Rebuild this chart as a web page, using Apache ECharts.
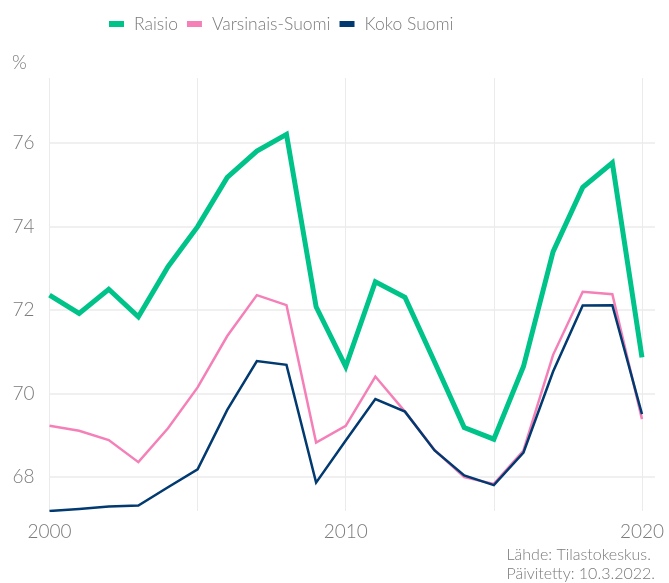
<!DOCTYPE html>
<html>
<head>
<meta charset="utf-8">
<script src="https://cdn.jsdelivr.net/npm/echarts@6/dist/echarts.min.js"></script>
<style>
  html, body { margin: 0; padding: 0; background: #fff; }
  #chart { width: 669px; height: 583px; }
</style>
</head>
<body>
<div id="chart"></div>
<script>
// vuodet ja sarjat
const years = [2000, 2001, 2002, 2003, 2004, 2005, 2006, 2007, 2008, 2009, 2010,
    2011, 2012, 2013, 2014, 2015, 2016, 2017, 2018, 2019, 2020];
const raisio = [72.36, 71.92, 72.50, 71.84, 73.04, 74.00, 75.18, 75.81, 76.21, 72.08, 70.65,
    72.68, 72.31, 70.76, 69.19, 68.91, 70.65, 73.40, 74.94, 75.53, 70.87];
const varsinaisSuomi = [69.23, 69.11, 68.89, 68.36, 69.17, 70.15, 71.38, 72.36, 72.12, 68.83, 69.23,
    70.41, 69.57, 68.65, 68.00, 67.84, 68.64, 70.93, 72.44, 72.38, 69.39];
const kokoSuomi = [67.19, 67.24, 67.30, 67.32, 67.76, 68.19, 69.61, 70.78, 70.69, 67.87, 68.88,
    69.87, 69.57, 68.64, 68.04, 67.81, 68.59, 70.53, 72.11, 72.12, 69.51];
const yTicks = [68, 70, 72, 74, 76];
const xLabels = [2000, 2010, 2020];

const font = 'Lato';
const grey = '#7a7a7a';

function pairs(values) {
    return years.map((y, i) => [y, values[i]]);
}

function lineSeries(name, values, color, width) {
    return {
        name: name,
        type: 'line',
        data: pairs(values),
        showSymbol: false,
        symbol: 'none',
        lineStyle: { color: color, width: width, join: 'miter' },
        itemStyle: { color: color },
        emphasis: { disabled: true },
        animation: false,
    };
}

const chart = echarts.init(document.getElementById('chart'), null, { renderer: 'canvas' });

chart.setOption({
    backgroundColor: '#fff',
    textStyle: { fontFamily: font },
    title: {
        text: '%',
        left: 7,
        top: 48,
        textStyle: { fontFamily: font, fontSize: 19, fontWeight: 300, color: grey },
    },
    legend: {
        top: 10,
        left: 104,
        itemWidth: 15,
        itemHeight: 6,
        itemGap: 9,
        icon: 'rect',
        textStyle: { fontFamily: font, fontSize: 17.5, fontWeight: 300, color: grey, padding: [0, 0, 0, 5] },
        data: ['Raisio', 'Varsinais-Suomi', 'Koko Suomi'],
    },
    grid: { left: 49.5, right: 14, top: 78, bottom: 72, containLabel: false },
    xAxis: {
        type: 'value',
        min: 2000,
        max: 2020.44,
        interval: 5,
        axisLine: { show: false },
        axisTick: { show: false },
        splitLine: { show: true, showMaxLine: false, lineStyle: { color: '#ebebeb', width: 1 } },
        axisLabel: {
            color: grey,
            fontFamily: font,
            fontSize: 19,
            fontWeight: 300,
            margin: 11,
            showMaxLabel: false,
            formatter: v => (xLabels.includes(v) ? String(v) : ''),
        },
    },
    yAxis: {
        type: 'value',
        min: 67.19,
        max: 77.56,
        splitNumber: 5,
        axisLine: { show: false },
        axisTick: { show: false },
        splitLine: {
            show: true, showMinLine: false, showMaxLine: false,
            lineStyle: { color: '#f0f0f0', width: 2 },
        },
        axisLabel: {
            color: grey,
            fontFamily: font,
            fontSize: 19,
            fontWeight: 300,
            margin: 15,
            showMinLabel: false,
            showMaxLabel: false,
            formatter: v => (yTicks.includes(Math.round(v * 100) / 100) ? String(v) : ''),
        },
    },
    graphic: [{
        type: 'text',
        right: 14,
        top: 545,
        style: {
            text: 'Lähde: Tilastokeskus.\nPäivitetty: 10.3.2022.',
            font: '300 16px Lato',
            fill: grey,
            align: 'right',
            lineHeight: 19,
        },
    }],
    series: [
        lineSeries('Raisio', raisio, '#00c389', 5),
        lineSeries('Varsinais-Suomi', varsinaisSuomi, '#f580b8', 2.5),
        lineSeries('Koko Suomi', kokoSuomi, '#003a70', 2.5),
    ],
});
</script>
</body>
</html>
